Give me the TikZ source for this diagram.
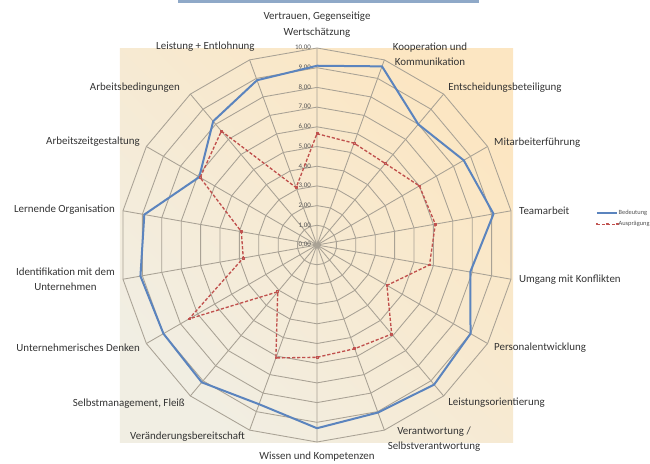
\documentclass[tikz,border=0pt]{standalone}
\usepackage{fontspec}
\setmainfont{Carlito}
\usetikzlibrary{plotmarks}
\definecolor{gridgray}{HTML}{A9A295}
\definecolor{beigetop}{HTML}{FCE6C2}
\definecolor{beigelow}{HTML}{F1EEE3}
\definecolor{bedblue}{HTML}{5B84BE}
\definecolor{auspred}{HTML}{C0504D}
\definecolor{labelgray}{HTML}{333333}
\definecolor{titleblue}{HTML}{8FA9C8}

\begin{document}
\begin{tikzpicture}[x=14.775pt,y=14.775pt,
  gridline/.style={draw=gridgray,line width=0.65pt},
  axislabel/.style={text=labelgray,font=\fontsize{8.2}{11.5}\selectfont,inner sep=0pt},
  ticklabel/.style={anchor=east,text=labelgray!85,font=\fontsize{5.2}{6}\selectfont,inner sep=0pt},
  legendtext/.style={anchor=west,text=labelgray!85,font=\fontsize{4.8}{5}\selectfont,inner sep=0pt},
  bedeutung/.style={draw=bedblue,line width=1.5pt,line join=round},
  auspraegung/.style={draw=auspred,line width=1pt,dash pattern=on 2.4pt off 1.4pt,line join=round}]
\useasboundingbox (-16.091,-11.066) rectangle (16.904,12.437);
% title box edge
\fill[titleblue] (-7.06,12.30) rectangle (8.22,12.437);
% plot area
\shade[top color=beigetop,middle color=beigetop,bottom color=beigelow,shading angle=-45] (-10,-10.05) rectangle (9.95,10.0);
% rings
\draw[gridline] (90:1) -- (70:1) -- (50:1) -- (30:1) -- (10:1) -- (-10:1) -- (-30:1) -- (-50:1) -- (-70:1) -- (-90:1) -- (-110:1) -- (-130:1) -- (-150:1) -- (-170:1) -- (170:1) -- (150:1) -- (130:1) -- (110:1) -- cycle;
\draw[gridline] (90:2) -- (70:2) -- (50:2) -- (30:2) -- (10:2) -- (-10:2) -- (-30:2) -- (-50:2) -- (-70:2) -- (-90:2) -- (-110:2) -- (-130:2) -- (-150:2) -- (-170:2) -- (170:2) -- (150:2) -- (130:2) -- (110:2) -- cycle;
\draw[gridline] (90:3) -- (70:3) -- (50:3) -- (30:3) -- (10:3) -- (-10:3) -- (-30:3) -- (-50:3) -- (-70:3) -- (-90:3) -- (-110:3) -- (-130:3) -- (-150:3) -- (-170:3) -- (170:3) -- (150:3) -- (130:3) -- (110:3) -- cycle;
\draw[gridline] (90:4) -- (70:4) -- (50:4) -- (30:4) -- (10:4) -- (-10:4) -- (-30:4) -- (-50:4) -- (-70:4) -- (-90:4) -- (-110:4) -- (-130:4) -- (-150:4) -- (-170:4) -- (170:4) -- (150:4) -- (130:4) -- (110:4) -- cycle;
\draw[gridline] (90:5) -- (70:5) -- (50:5) -- (30:5) -- (10:5) -- (-10:5) -- (-30:5) -- (-50:5) -- (-70:5) -- (-90:5) -- (-110:5) -- (-130:5) -- (-150:5) -- (-170:5) -- (170:5) -- (150:5) -- (130:5) -- (110:5) -- cycle;
\draw[gridline] (90:6) -- (70:6) -- (50:6) -- (30:6) -- (10:6) -- (-10:6) -- (-30:6) -- (-50:6) -- (-70:6) -- (-90:6) -- (-110:6) -- (-130:6) -- (-150:6) -- (-170:6) -- (170:6) -- (150:6) -- (130:6) -- (110:6) -- cycle;
\draw[gridline] (90:7) -- (70:7) -- (50:7) -- (30:7) -- (10:7) -- (-10:7) -- (-30:7) -- (-50:7) -- (-70:7) -- (-90:7) -- (-110:7) -- (-130:7) -- (-150:7) -- (-170:7) -- (170:7) -- (150:7) -- (130:7) -- (110:7) -- cycle;
\draw[gridline] (90:8) -- (70:8) -- (50:8) -- (30:8) -- (10:8) -- (-10:8) -- (-30:8) -- (-50:8) -- (-70:8) -- (-90:8) -- (-110:8) -- (-130:8) -- (-150:8) -- (-170:8) -- (170:8) -- (150:8) -- (130:8) -- (110:8) -- cycle;
\draw[gridline] (90:9) -- (70:9) -- (50:9) -- (30:9) -- (10:9) -- (-10:9) -- (-30:9) -- (-50:9) -- (-70:9) -- (-90:9) -- (-110:9) -- (-130:9) -- (-150:9) -- (-170:9) -- (170:9) -- (150:9) -- (130:9) -- (110:9) -- cycle;
\draw[gridline] (90:10) -- (70:10) -- (50:10) -- (30:10) -- (10:10) -- (-10:10) -- (-30:10) -- (-50:10) -- (-70:10) -- (-90:10) -- (-110:10) -- (-130:10) -- (-150:10) -- (-170:10) -- (170:10) -- (150:10) -- (130:10) -- (110:10) -- cycle;
% spokes
\draw[gridline] (0,0) -- (90:10) (0,0) -- (70:10) (0,0) -- (50:10) (0,0) -- (30:10) (0,0) -- (10:10) (0,0) -- (-10:10);
\draw[gridline] (0,0) -- (-30:10) (0,0) -- (-50:10) (0,0) -- (-70:10) (0,0) -- (-90:10) (0,0) -- (-110:10) (0,0) -- (-130:10);
\draw[gridline] (0,0) -- (-150:10) (0,0) -- (-170:10) (0,0) -- (170:10) (0,0) -- (150:10) (0,0) -- (130:10) (0,0) -- (110:10);
% scale
\node[ticklabel] (t0) at (-0.3,0) {0,00};
\node[ticklabel] (t1) at (-0.3,1) {1,00};
\node[ticklabel] (t2) at (-0.3,2) {2,00};
\node[ticklabel] (t3) at (-0.3,3) {3,00};
\node[ticklabel] (t4) at (-0.3,4) {4,00};
\node[ticklabel] (t5) at (-0.3,5) {5,00};
\node[ticklabel] (t6) at (-0.3,6) {6,00};
\node[ticklabel] (t7) at (-0.3,7) {7,00};
\node[ticklabel] (t8) at (-0.3,8) {8,00};
\node[ticklabel] (t9) at (-0.3,9) {9,00};
\node[ticklabel] (t10) at (-0.3,10) {10,00};
% Bedeutung
\draw[bedeutung] (90:9.1) -- (70:9.65) -- (50:8.0) -- (30:8.6) -- (10:9.1) -- (-10:7.9) -- (-30:9.0) -- (-50:9.25) -- (-70:9.05) -- (-90:9.3) -- (-110:8.6) -- (-130:9.1) -- (-150:9.0) -- (-170:9.1) -- (170:8.9) -- (150:6.9) -- (130:8.2) -- (110:8.9) -- cycle;
% Auspraegung
\draw[auspraegung] plot[mark=square,mark size=0.7pt,mark options={solid,line width=0.6pt}] coordinates {(90:5.65) (70:5.5) (50:5.4) (30:6.0) (10:6.1) (-10:5.8) (-30:4.1) (-50:5.9) (-70:5.6) (-90:5.7) (-110:6.1) (-130:3.1) (-150:7.5) (-170:3.8) (170:3.9) (150:6.85) (130:7.55) (110:3.1)} -- cycle;
% axis labels
\node[axislabel,align=center] (vertrauen) at (0,11.19) {Vertrauen, Gegenseitige\\Wertschätzung};
\node[axislabel,align=center] (kooperation) at (5.74,9.67) {Kooperation und\\Kommunikation};
\node[axislabel,anchor=west] (entscheidung) at (6.65,7.97) {Entscheidungsbeteiligung};
\node[axislabel,anchor=west] (fuehrung) at (8.98,5.18) {Mitarbeiterführung};
\node[axislabel,anchor=west] (team) at (10.25,1.73) {Teamarbeit};
\node[axislabel,anchor=west] (konflikt) at (10.25,-1.78) {Umgang mit Konflikten};
\node[axislabel,anchor=west] (personal) at (8.98,-5.23) {Personalentwicklung};
\node[axislabel,anchor=west] (leistungsor) at (6.65,-8.02) {Leistungsorientierung};
\node[axislabel,align=center] (verantwortung) at (5.94,-9.87) {Verantwortung /\\Selbstverantwortung};
\node[axislabel] (wissen) at (0,-10.76) {Wissen und Kompetenzen};
\node[axislabel,anchor=east] (veraenderung) at (-3.65,-9.75) {Veränderungsbereitschaft};
\node[axislabel,anchor=east] (selbstmgmt) at (-6.70,-8.07) {Selbstmanagement, Fleiß};
\node[axislabel,anchor=east] (unternehmer) at (-8.98,-5.23) {Unternehmerisches Denken};
\node[axislabel,anchor=east,align=center] (identifikation) at (-10.25,-1.75) {Identifikation mit dem\\Unternehmen};
\node[axislabel,anchor=east] (lernend) at (-10.25,1.78) {Lernende Organisation};
\node[axislabel,anchor=east] (arbeitszeit) at (-8.98,5.23) {Arbeitszeitgestaltung};
\node[axislabel,anchor=east] (arbeitsbed) at (-6.95,7.97) {Arbeitsbedingungen};
\node[axislabel,anchor=east] (entlohnung) at (-3.15,10.05) {Leistung + Entlohnung};
% legend
\draw[bedeutung,line width=1pt] (14.21,1.62) -- (15.23,1.62);
\node[legendtext] (legbed) at (15.30,1.62) {Bedeutung};
\draw[auspraegung,line width=0.6pt] plot[mark=square,mark size=0.7pt,mark options={solid}] coordinates {(14.21,1.07) (14.72,1.07) (15.23,1.07)};
\node[legendtext] (legausp) at (15.30,1.07) {Ausprägung};
\end{tikzpicture}
\end{document}
